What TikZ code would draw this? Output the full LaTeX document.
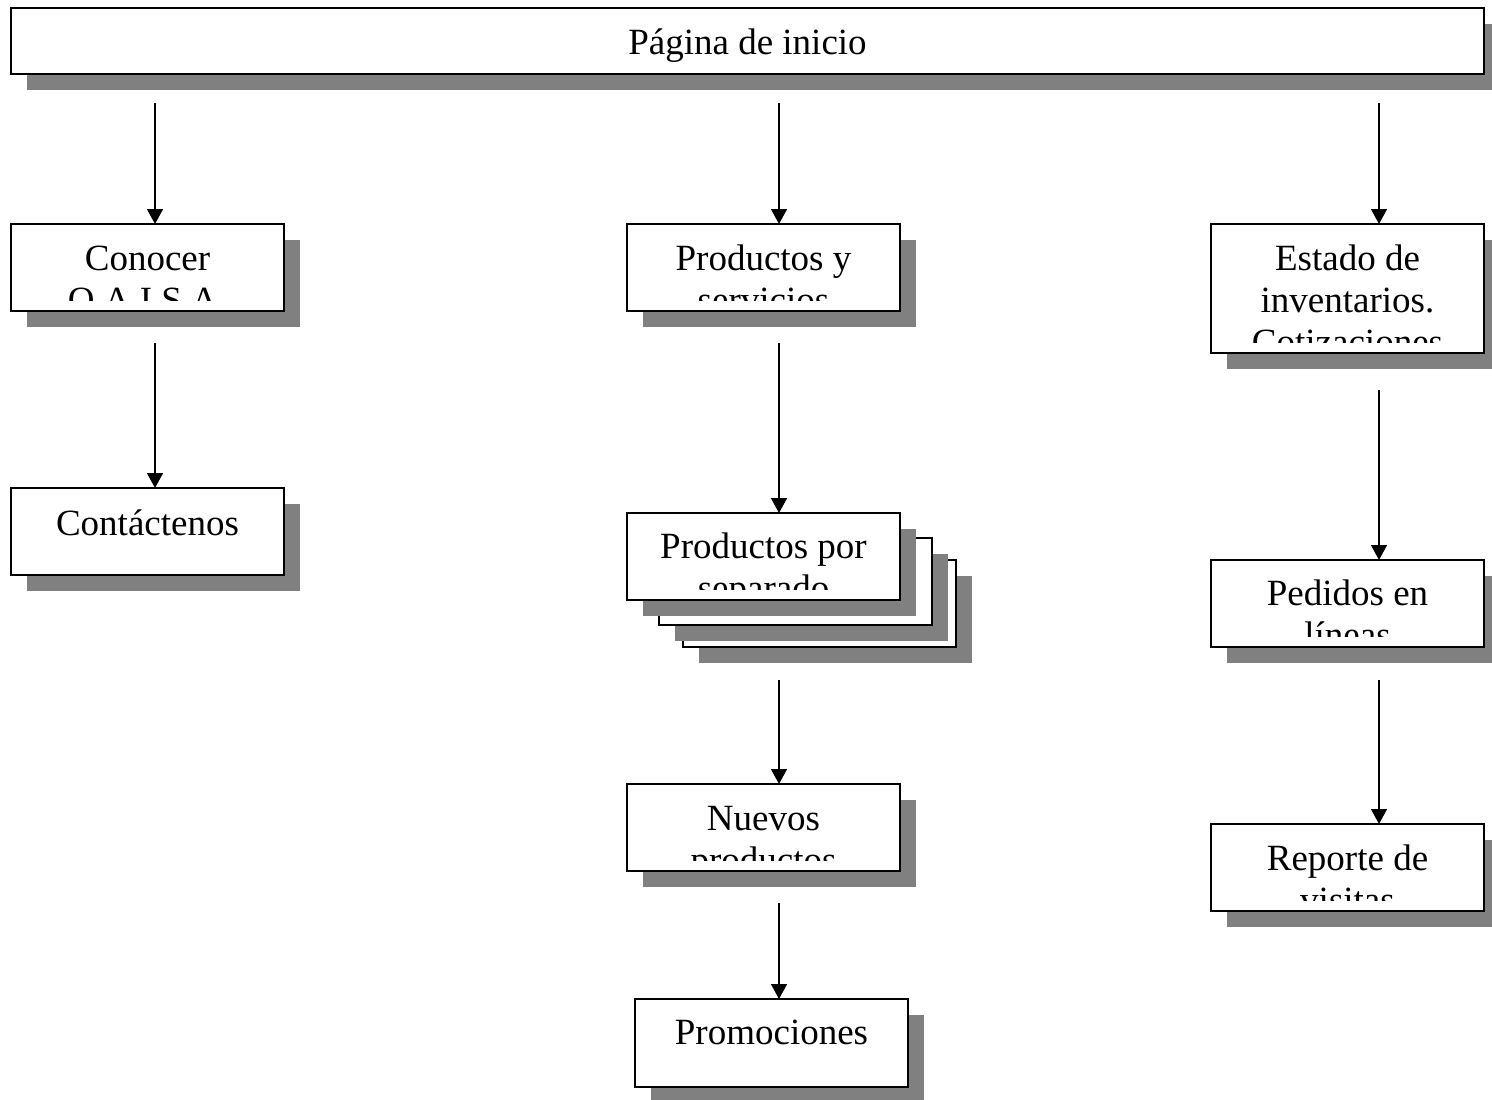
\documentclass[tikz,border=0pt]{standalone}
\usepackage{fontspec}
\setmainfont{Liberation Serif}
\usetikzlibrary{arrows.meta,shadows}
\definecolor{shade}{RGB}{128,128,128}
\tikzset{
  page/.style={rectangle, draw=black, line width=1.6pt, fill=white,
    inner sep=0pt, outer sep=0pt, anchor=north west,
    minimum width=273pt, minimum height=87pt,
    drop shadow={shadow xshift=16pt, shadow yshift=-16pt, fill=shade, opacity=1}},
  lbl/.style={anchor=base, inner sep=0pt, font=\fontsize{37}{42}\selectfont},
  link/.style={line width=1.6pt, -{Triangle[width=16pt,length=15pt]}}
}
% clip the caption of a box a little above its lower border
\newcommand{\boxtext}[3]{%
  \begin{scope}
    \clip (#1.north west) rectangle ([yshift=11pt]#1.south east);
    #3
  \end{scope}}
\begin{document}
\begin{tikzpicture}[x=1pt,y=-1pt]
\useasboundingbox (0,0) rectangle (1492,1100);

% ---- boxes ----
\node[page, minimum width=1473pt, minimum height=66pt] (home) at (11,8) {};
\node[page] (conocer) at (11,224) {};
\node[page] (contacto) at (11,488) {};
\node[page] (prodserv) at (627,224) {};
\node[page] (sep3) at (683,560) {};
\node[page] (sep2) at (659,538) {};
\node[page] (sep1) at (627,513) {};
\node[page] (nuevos) at (627,784) {};
\node[page, minimum height=88pt] (promo) at (635,999) {};
\node[page, minimum height=129pt] (estado) at (1211,224) {};
\node[page] (pedidos) at (1211,560) {};
\node[page] (reporte) at (1211,824) {};

% ---- captions ----
\node[lbl] (homeA) at ([yshift=-46pt]home.north) {Página de inicio};
\boxtext{conocer}{}{%
  \node[lbl] (conocerA) at ([yshift=-46pt]conocer.north) {Conocer};
  \node[lbl] (conocerB) at ([yshift=-88pt]conocer.north) {O.A.I.S.A.};}
\node[lbl] (contactoA) at ([yshift=-47pt]contacto.north) {Contáctenos};
\boxtext{prodserv}{}{%
  \node[lbl] (prodservA) at ([yshift=-46pt]prodserv.north) {Productos y};
  \node[lbl] (prodservB) at ([yshift=-88pt]prodserv.north) {servicios};}
\boxtext{sep1}{}{%
  \node[lbl] (sep1A) at ([yshift=-45pt]sep1.north) {Productos por};
  \node[lbl] (sep1B) at ([yshift=-87pt]sep1.north) {separado};}
\boxtext{nuevos}{}{%
  \node[lbl] (nuevosA) at ([yshift=-46pt]nuevos.north) {Nuevos};
  \node[lbl] (nuevosB) at ([yshift=-88pt]nuevos.north) {productos};}
\node[lbl] (promoA) at ([yshift=-45pt]promo.north) {Promociones};
\boxtext{estado}{}{%
  \node[lbl] (estadoA) at ([yshift=-46pt]estado.north) {Estado de};
  \node[lbl] (estadoB) at ([yshift=-88pt]estado.north) {inventarios.};
  \node[lbl] (estadoC) at ([yshift=-130pt]estado.north) {Cotizaciones};}
\boxtext{pedidos}{}{%
  \node[lbl] (pedidosA) at ([yshift=-45pt]pedidos.north) {Pedidos en};
  \node[lbl] (pedidosB) at ([yshift=-87pt]pedidos.north) {líneas};}
\boxtext{reporte}{}{%
  \node[lbl] (reporteA) at ([yshift=-46pt]reporte.north) {Reporte de};
  \node[lbl] (reporteB) at ([yshift=-88pt]reporte.north) {visitas};}

% ---- connectors ----
\coordinate (l1) at (155,103);
\coordinate (l2) at (155,343);
\coordinate (m1) at (779,103);
\coordinate (m2) at (779,343);
\coordinate (m3) at (779,680);
\coordinate (m4) at (779,903);
\coordinate (r1) at (1379,103);
\coordinate (r2) at (1379,390);
\coordinate (r3) at (1379,680);

\draw[link] (l1) -- (l1 |- conocer.north);
\draw[link] (l2) -- (l2 |- contacto.north);
\draw[link] (m1) -- (m1 |- prodserv.north);
\draw[link] (m2) -- (m2 |- sep1.north);
\draw[link] (m3) -- (m3 |- nuevos.north);
\draw[link] (m4) -- (m4 |- promo.north);
\draw[link] (r1) -- (r1 |- estado.north);
\draw[link] (r2) -- (r2 |- pedidos.north);
\draw[link] (r3) -- (r3 |- reporte.north);
\end{tikzpicture}
\end{document}
